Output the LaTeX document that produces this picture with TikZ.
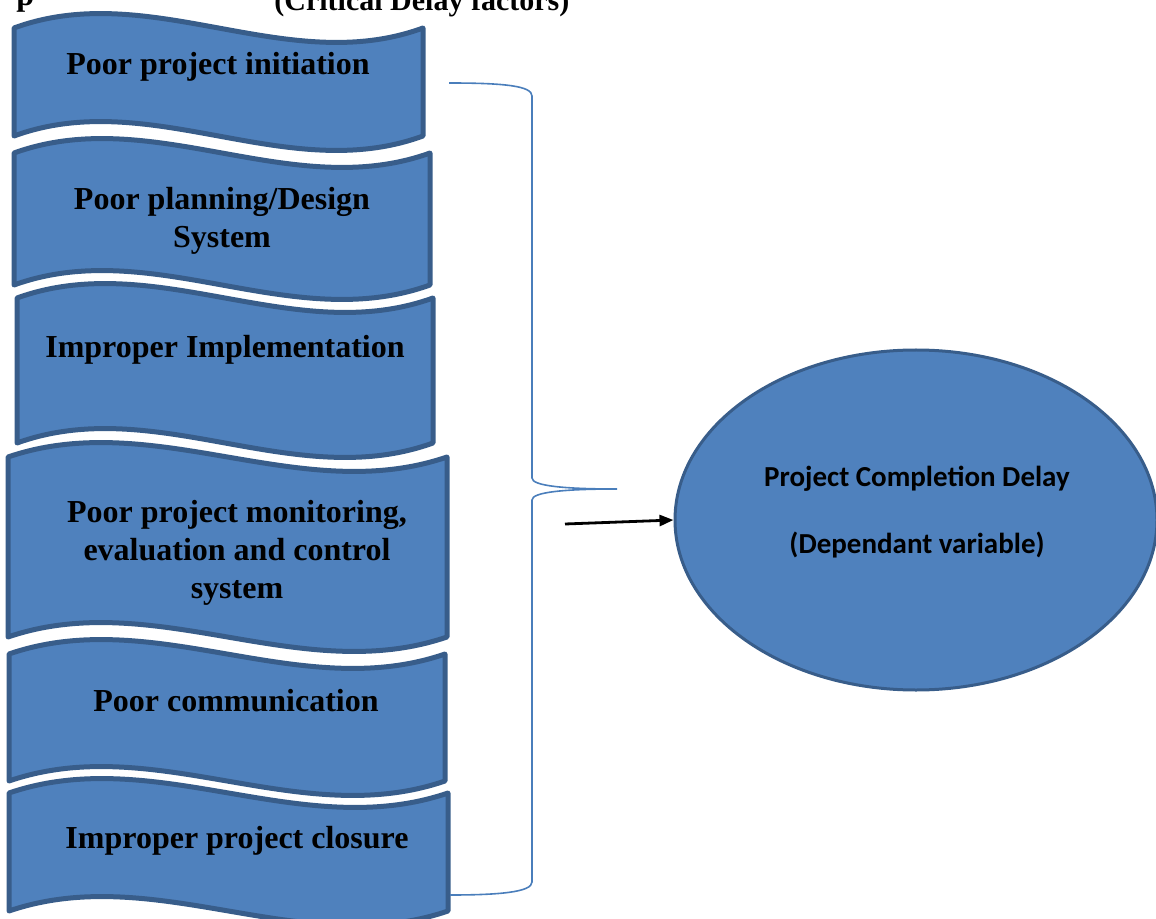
\documentclass[tikz,border=0pt]{standalone}
\usepackage{fontspec}
\setmainfont{Liberation Serif}
\newfontfamily\labelfont{Carlito}
\usetikzlibrary{shapes.geometric,arrows.meta}
\definecolor{bandblue}{HTML}{4F81BD}
\definecolor{bandedge}{HTML}{385D8A}
\definecolor{bracecol}{HTML}{4A7EBB}

% wavy band: left x, right x, top corner y, bottom corner y
\newcommand{\waveband}[4]{%
  \pgfmathsetmacro{\wa}{#1+(#2-#1)/3}%
  \pgfmathsetmacro{\wb}{#1+2*(#2-#1)/3}%
  \draw[band] (#1,#3) .. controls (\wa,#3-50) and (\wb,#3+50) .. (#2,#3)
    -- (#2,#4) .. controls (\wb,#4+50) and (\wa,#4-50) .. (#1,#4) -- cycle;}

\begin{document}
\begin{tikzpicture}[x=0.5pt,y=-0.5pt,
band/.style={fill=bandblue,draw=bandedge,line width=2.5pt,line join=round},
factor/.style={font=\fontsize{16}{19}\selectfont\bfseries,align=center,inner sep=0pt},
outcome/.style={draw=bandedge,fill=bandblue,ellipse,line width=1.5pt,minimum width=241pt,minimum height=170pt}]

\useasboundingbox (0,0) rectangle (1156,919);

\node[factor,anchor=base west] (lead) at (16,6) {p};
\node[factor,font=\fontsize{15}{19}\selectfont\bfseries,anchor=base west] (heading) at (274,11) {(Critical Delay factors)};

\waveband{14}{423}{28}{136}
\waveband{14}{430}{153}{285}
\waveband{17}{433}{298}{443}
\waveband{8}{447}{457}{637}
\waveband{9}{445}{654}{781}
\waveband{9}{448}{793}{911}

\node[factor,anchor=base] (f1) at (218,75) {Poor project initiation};
\node[factor] (f2) at (222,221) {Poor planning/Design\\System};
\node[factor,anchor=base] (f3) at (225,358) {Improper Implementation};
\node[factor] (f4) at (237,553) {Poor project monitoring,\\evaluation and control\\system};
\node[factor,anchor=base] (f5) at (236,711) {Poor communication};
\node[factor,anchor=base] (f6) at (237,848) {Improper project closure};

\node[outcome] (delay) at (916,520) {};
\node[font=\labelfont\fontsize{14.5}{17.5}\selectfont\bfseries,align=center,inner sep=0pt] (delaytext) at (917,512)
  {Project Completion Delay\\[16pt](Dependant variable)};

\draw[bracecol,line width=0.8pt] (449,83) .. controls (505,83) and (532,86) .. (532,96) -- (532,478)
  .. controls (532,486) and (565,489) .. (617,489) coordinate (tip)
  .. controls (565,489) and (532,492) .. (532,500) -- (532,882)
  .. controls (532,892) and (500,895) .. (450,895);

\coordinate (src) at (565,524);
\draw[line width=1.4pt,-{Triangle[length=7pt,width=5.5pt]}] (src) -- (delay.west);
\end{tikzpicture}
\end{document}
